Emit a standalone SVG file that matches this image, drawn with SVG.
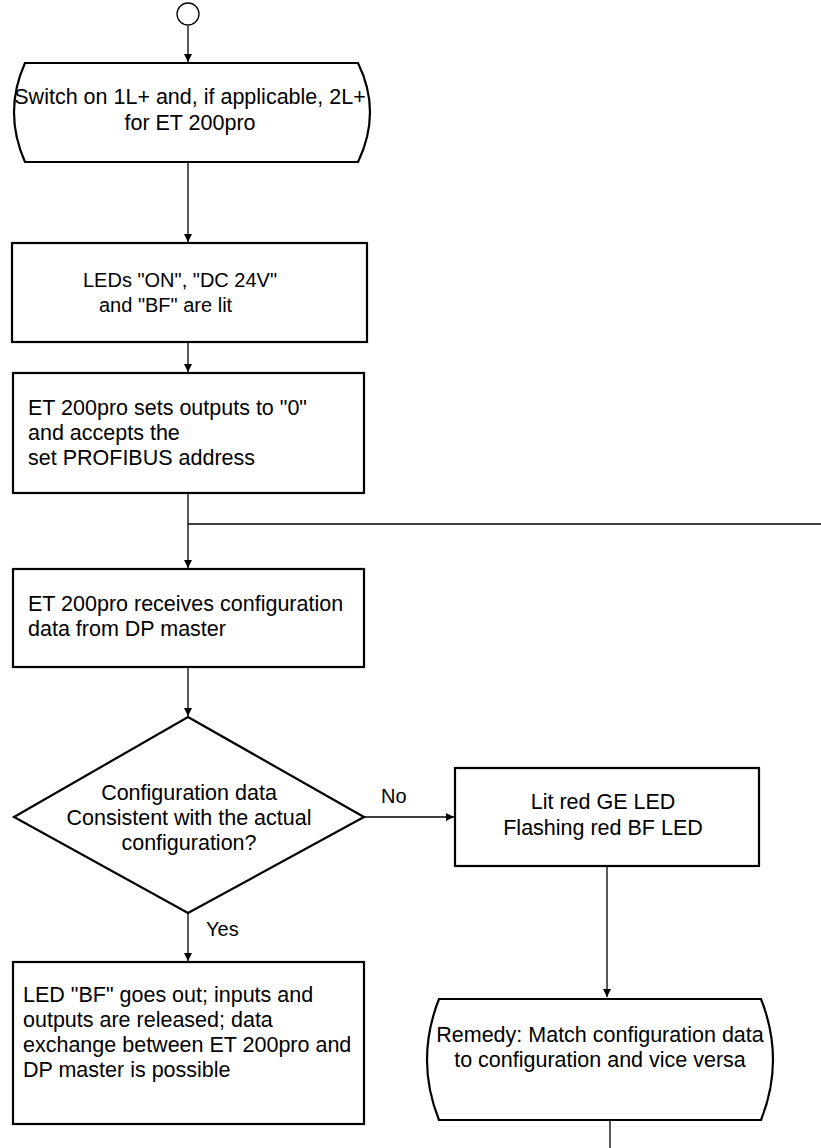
<svg xmlns="http://www.w3.org/2000/svg" width="821" height="1148" viewBox="0 0 821 1148">
<style>
.n{fill:#fff;stroke:#000;stroke-width:2.2}
.c{fill:none;stroke:#000;stroke-width:1.3}
text{font-family:"Liberation Sans",Arial,sans-serif;font-size:21.5px;fill:#000}
.m{text-anchor:middle}
.s{font-size:20px}
</style>
<defs>
<marker id="a" viewBox="0 0 10 10" refX="10" refY="5" markerWidth="8" markerHeight="8" markerUnits="userSpaceOnUse" orient="auto">
<path d="M0,0 L10,5 L0,10 Z" fill="#000"/>
</marker>
</defs>
<rect width="821" height="1148" fill="#fff"/>
<g id="connectors">
<line class="c" x1="188" y1="26" x2="188" y2="62" marker-end="url(#a)"/>
<line class="c" x1="188" y1="162" x2="188" y2="242" marker-end="url(#a)"/>
<line class="c" x1="188" y1="342" x2="188" y2="372" marker-end="url(#a)"/>
<line class="c" x1="188" y1="493" x2="188" y2="568" marker-end="url(#a)"/>
<line class="c" x1="188" y1="524" x2="821" y2="524"/>
<line class="c" x1="188" y1="667" x2="188" y2="716" marker-end="url(#a)"/>
<line class="c" x1="364" y1="817" x2="454" y2="817" marker-end="url(#a)"/>
<line class="c" x1="188" y1="913" x2="188" y2="961" marker-end="url(#a)"/>
<line class="c" x1="607" y1="866" x2="607" y2="997" marker-end="url(#a)"/>
<line class="c" x1="610" y1="1120" x2="610" y2="1148"/>
<text x="381" y="803" class="s">No</text>
<text x="206" y="936" class="s">Yes</text>
</g>
<g id="start">
<circle cx="188" cy="14" r="11" fill="#fff" stroke="#000" stroke-width="1.3"/>
</g>
<g id="switch-on">
<path class="n" d="M25 63 L358 63 Q382 112 358 162 L25 162 Q3 112 25 63 Z"/>
<text class="m" x="190" y="104">Switch on 1L+ and, if applicable, 2L+</text>
<text class="m" x="190" y="130">for ET 200pro</text>
</g>
<g id="leds-lit">
<rect class="n" x="12" y="243" width="355" height="99"/>
<text x="83" y="287" class="s">LEDs "ON", "DC 24V"</text>
<text x="99" y="312" class="s">and "BF" are lit</text>
</g>
<g id="sets-outputs">
<rect class="n" x="13" y="373" width="351" height="120"/>
<text x="28" y="415">ET 200pro sets outputs to "0"</text>
<text x="28" y="440">and accepts the</text>
<text x="28" y="465">set PROFIBUS address</text>
</g>
<g id="receives-config">
<rect class="n" x="13" y="569" width="351" height="98"/>
<text x="28" y="611">ET 200pro receives configuration</text>
<text x="28" y="636">data from DP master</text>
</g>
<g id="decision">
<polygon class="n" points="188,717 364,817 188,913 14,817"/>
<text class="m" x="189" y="800">Configuration data</text>
<text class="m" x="189" y="825">Consistent with the actual</text>
<text class="m" x="189" y="850">configuration?</text>
</g>
<g id="error-leds">
<rect class="n" x="455" y="768" width="304" height="98"/>
<text class="m" x="603" y="809">Lit red GE LED</text>
<text class="m" x="603" y="835">Flashing red BF LED</text>
</g>
<g id="remedy">
<path class="n" d="M439 999 L761 999 Q785 1060 761 1120 L439 1120 Q415 1060 439 999 Z"/>
<text class="m" x="600" y="1042">Remedy: Match configuration data</text>
<text class="m" x="600" y="1067">to configuration and vice versa</text>
</g>
<g id="data-exchange">
<rect class="n" x="13" y="962" width="351" height="162"/>
<text x="23" y="1002">LED "BF" goes out; inputs and</text>
<text x="23" y="1027">outputs are released; data</text>
<text x="23" y="1052">exchange between ET 200pro and</text>
<text x="23" y="1077">DP master is possible</text>
</g>
</svg>
